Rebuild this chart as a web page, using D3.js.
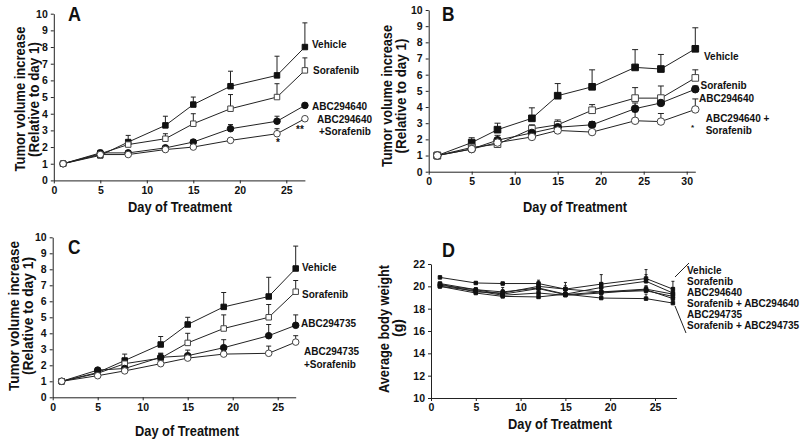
<!DOCTYPE html>
<html><head><meta charset="utf-8">
<script src="https://cdnjs.cloudflare.com/ajax/libs/d3/7.8.5/d3.min.js"></script>
<style>
body{margin:0;background:#fff;}
svg{display:block;}
text{font-family:'Liberation Sans',Arial,Helvetica,sans-serif;font-weight:bold;fill:#111;}
</style></head>
<body>
<svg id="chart" width="800" height="445"></svg>
<script>
// ---------------- DATA ----------------
const daysA = [1, 5, 8, 12, 15, 19, 24, 27];
const aVehicle = [1, 1.5, 2.3, 3.3, 4.55, 5.65, 6.3, 8.0];
const aVehicleErr = [0, 0.3, 0.4, 0.55, 0.45, 0.9, 1.15, 1.45];
const aSorafenib = [1, 1.6, 2.15, 2.5, 3.4, 4.3, 5.0, 6.6];
const aSorafenibErr = [0, 0.2, 0.15, 0.3, 0.6, 0.85, 0.8, 0.75];
const aABC640 = [1, 1.65, 1.65, 1.95, 2.3, 3.1, 3.55, 4.5];
const aABC640Err = [0, 0.15, 0.1, 0.1, 0.15, 0.25, 0.3, 0.1];
const aCombo = [1, 1.55, 1.55, 1.85, 2.0, 2.4, 2.8, 3.7];
const aComboErr = [0, 0.1, 0.05, 0.05, 0.1, 0.1, 0.3, 0.1];

const daysB = [1, 5, 8, 12, 15, 19, 24, 27, 31];
const bVehicle = [1, 1.8, 2.6, 3.3, 4.7, 5.25, 6.45, 6.35, 7.6];
const bVehicleErr = [0, 0.3, 0.4, 0.65, 0.75, 1.05, 1.1, 0.9, 1.3];
const bSorafenib = [1, 1.5, 1.7, 2.65, 2.9, 3.8, 4.55, 4.55, 5.8];
const bSorafenibErr = [0, 0.15, 0.25, 0.25, 0.3, 0.35, 0.65, 0.75, 0.5];
const bABC640 = [1, 1.4, 1.95, 2.4, 2.75, 2.9, 3.9, 4.25, 5.1];
const bABC640Err = [0, 0.15, 0.3, 0.3, 0.35, 0.2, 0.35, 0.15, 0.2];
const bCombo = [1, 1.4, 1.8, 2.15, 2.55, 2.45, 3.15, 3.1, 3.85];
const bComboErr = [0, 0.1, 0.1, 0.25, 0.2, 0.15, 0.55, 0.5, 0.65];

const daysC = [1, 5, 8, 12, 15, 19, 24, 27];
const cVehicle = [1, 1.55, 2.3, 3.3, 4.55, 5.65, 6.3, 8.05];
const cVehicleErr = [0, 0.15, 0.4, 0.5, 0.45, 0.9, 1.2, 1.4];
const cSorafenib = [1, 1.5, 2.1, 2.45, 3.4, 4.3, 5.0, 6.6];
const cSorafenibErr = [0, 0.1, 0.2, 0.3, 0.6, 0.85, 0.8, 0.7];
const cABC735 = [1, 1.7, 1.8, 2.5, 2.6, 3.1, 3.85, 4.5];
const cABC735Err = [0, 0.1, 0.2, 0.25, 0.35, 0.5, 0.7, 0.65];
const cCombo = [1, 1.35, 1.65, 2.1, 2.45, 2.7, 2.75, 3.45];
const cComboErr = [0, 0.1, 0.1, 0.15, 0.1, 0.15, 0.45, 0.4];

const daysD = [1, 5, 8, 12, 15, 19, 24, 27];
const dVehicle = [20.8, 20.3, 20.25, 20.25, 19.75, 20.2, 20.7, 19.75];
const dVehicleErr = [0.1, 0.1, 0.1, 0.3, 0.6, 0.85, 0.8, 0.7];
const dSorafenib = [20.25, 19.7, 19.5, 19.85, 19.3, 19.9, 20.45, 19.4];
const dSorafenibErr = [0.1, 0.15, 0.4, 0.3, 0.3, 0.3, 0.6, 0.5];
const dABC640 = [20.1, 19.7, 19.3, 19.8, 19.25, 19.5, 19.75, 19.3];
const dABC640Err = [0.1, 0.15, 0.3, 0.3, 0.2, 0.3, 0.3, 0.3];
const dCombo640 = [20.0, 19.6, 19.2, 19.4, 19.2, 19.4, 19.7, 18.9];
const dCombo640Err = [0.1, 0.1, 0.2, 0.3, 0.2, 0.2, 0.3, 0.3];
const dABC735 = [20.0, 19.4, 19.1, 19.05, 19.3, 18.95, 18.9, 18.5];
const dABC735Err = [0.1, 0.1, 0.2, 0.2, 0.2, 0.2, 0.4, 0.3];
const dCombo735 = [20.2, 19.5, 19.4, 20.0, 19.75, 19.5, 19.6, 19.1];
const dCombo735Err = [0.1, 0.1, 0.3, 0.4, 0.3, 0.3, 0.4, 0.3];

const tumorTicks = [0,1,2,3,4,5,6,7,8,9,10];
const dayTicks27 = [0,5,10,15,20,25];
const dayTicks31 = [0,5,10,15,20,25,30];
const weightTicks = [10,12,14,16,18,20,22];
const legendD = ["Vehicle","Sorafenib","ABC294640","Sorafenib + ABC294640","ABC294735","Sorafenib + ABC294735"];

// ---------------- DRAW ----------------
const svg = d3.select("#chart");

function condense(sel, len){
  sel.attr("textLength", len).attr("lengthAdjust","spacingAndGlyphs");
}

function drawPanel(cfg){
  const g = svg.append("g");
  const x = d3.scaleLinear().domain(cfg.xDomain).range(cfg.xRange);
  const y = d3.scaleLinear().domain(cfg.yDomain).range(cfg.yRange);

  const xAxis = g.append("g").attr("transform",`translate(0,${cfg.yRange[0]})`)
    .call(d3.axisBottom(x).tickValues(cfg.xTicks).tickSize(3).tickSizeOuter(0).tickPadding(3));
  const yAxis = g.append("g").attr("transform",`translate(${cfg.xRange[0]},0)`)
    .call(d3.axisLeft(y).tickValues(cfg.yTicks).tickSize(3).tickSizeOuter(0).tickPadding(3));
  [xAxis,yAxis].forEach(a=>{
    a.selectAll("path,line").attr("stroke","#222").attr("stroke-width",1);
    a.selectAll("text").style("font-size","10.5px").style("font-weight","bold")
      .style("font-family","'Liberation Sans',Arial,sans-serif").attr("fill","#111");
  });

  const line = d3.line().x((d,i)=>x(cfg.days[i])).y(d=>y(d));
  cfg.series.forEach(s=>{
    g.append("path").attr("d", line(s.values)).attr("fill","none")
      .attr("stroke","#222").attr("stroke-width",1);
  });
  cfg.series.forEach(s=>{
    s.values.forEach((v,i)=>{
      const e = s.err[i];
      if(e<=0) return;
      const xx = x(cfg.days[i]);
      g.append("line").attr("x1",xx).attr("x2",xx).attr("y1",y(v)).attr("y2",y(v+e))
        .attr("stroke","#222").attr("stroke-width",1);
      g.append("line").attr("x1",xx-cfg.cap).attr("x2",xx+cfg.cap).attr("y1",y(v+e)).attr("y2",y(v+e))
        .attr("stroke","#222").attr("stroke-width",1);
    });
  });
  cfg.series.forEach(s=>{
    const sym = d3.symbol().type(s.shape==="square"?d3.symbolSquare:d3.symbolCircle)
      .size(s.shape==="square"?cfg.sqSize:cfg.ciSize);
    s.values.forEach((v,i)=>{
      g.append("path").attr("d",sym())
        .attr("transform",`translate(${x(cfg.days[i])},${y(v)})`)
        .attr("fill", s.filled?"#111":"#fff")
        .attr("stroke", s.filled?"#111":"#444").attr("stroke-width",1);
    });
  });

  // panel letter
  g.append("text").attr("x",cfg.letter[0]).attr("y",cfg.letter[1]).text(cfg.letter[2])
    .style("font-size","21px").call(condense, cfg.letter[3]);
  // x title
  g.append("text").attr("x",cfg.xTitle[0]).attr("y",cfg.xTitle[1]).attr("text-anchor","middle")
    .text("Day of Treatment").style("font-size","15.5px").call(condense,104);
  // y titles
  cfg.yTitles.forEach(t=>{
    g.append("text").attr("transform",`translate(${t.x},${t.cy}) rotate(-90)`)
      .attr("text-anchor","middle").text(t.text).style("font-size","15.5px").call(condense,t.len);
  });
  // labels
  cfg.labels.forEach(l=>{
    g.append("text").attr("x",l[0]).attr("y",l[1]).text(l[2]).style("font-size",(l[3]||10)+"px");
  });
}

drawPanel({
  days: daysA, xDomain:[0,27], xRange:[53.8,304.9], yDomain:[0,10], yRange:[180.4,13.7],
  xTicks: dayTicks27, yTicks: tumorTicks, cap:2.5, sqSize:30, ciSize:34,
  series:[
    {values:aVehicle, err:aVehicleErr, shape:"square", filled:true},
    {values:aSorafenib, err:aSorafenibErr, shape:"square", filled:false},
    {values:aABC640, err:aABC640Err, shape:"circle", filled:true},
    {values:aCombo, err:aComboErr, shape:"circle", filled:false}],
  letter:[68,21,"A",13],
  xTitle:[180,212],
  yTitles:[{x:25,cy:99,text:"Tumor volume increase",len:145},{x:39,cy:99.5,text:"(Relative to day 1)",len:115}],
  labels:[[312,48,"Vehicle"],[313,74,"Sorafenib"],[312,109.5,"ABC294640"],[317,122.7,"ABC294640"],
          [319,134.5,"+Sorafenib"],[296,133,"**",10],[276,146,"*",10]]
});

drawPanel({
  days: daysB, xDomain:[0,31], xRange:[428.7,695.3], yDomain:[0,10], yRange:[171.7,10],
  xTicks: dayTicks31, yTicks: tumorTicks, cap:3, sqSize:44, ciSize:44,
  series:[
    {values:bVehicle, err:bVehicleErr, shape:"square", filled:true},
    {values:bSorafenib, err:bSorafenibErr, shape:"square", filled:false},
    {values:bABC640, err:bABC640Err, shape:"circle", filled:true},
    {values:bCombo, err:bComboErr, shape:"circle", filled:false}],
  letter:[442,21,"B",12.5],
  xTitle:[575,212],
  yTitles:[{x:391.7,cy:96,text:"Tumor volume increase",len:142},{x:406,cy:96,text:"(Relative to day 1)",len:115}],
  labels:[[704,60,"Vehicle"],[700.5,89.3,"Sorafenib"],[699,101.7,"ABC294640"],
          [705.7,122.3,"ABC294640 +"],[705.7,134,"Sorafenib"],[691,129.5,"*",8]]
});

drawPanel({
  days: daysC, xDomain:[0,27], xRange:[52.7,295.7], yDomain:[0,10], yRange:[397.3,237.3],
  xTicks: dayTicks27, yTicks: tumorTicks, cap:2.5, sqSize:30, ciSize:34,
  series:[
    {values:cVehicle, err:cVehicleErr, shape:"square", filled:true},
    {values:cSorafenib, err:cSorafenibErr, shape:"square", filled:false},
    {values:cABC735, err:cABC735Err, shape:"circle", filled:true},
    {values:cCombo, err:cComboErr, shape:"circle", filled:false}],
  letter:[68,254,"C",12.5],
  xTitle:[187,436],
  yTitles:[{x:18.5,cy:316,text:"Tumor volume increase",len:150},{x:32.5,cy:316,text:"(Relative to day 1)",len:118}],
  labels:[[302,270.7,"Vehicle"],[302,298.3,"Sorafenib"],[301,327,"ABC294735"],
          [304,355,"ABC294735"],[304,368,"+Sorafenib"]]
});

drawPanel({
  days: daysD, xDomain:[0,27.4], xRange:[431,676.5], yDomain:[10,22], yRange:[398,264],
  xTicks: dayTicks27, yTicks: weightTicks, cap:1.5, sqSize:12, ciSize:12,
  series:[
    {values:dVehicle, err:dVehicleErr, shape:"square", filled:true},
    {values:dSorafenib, err:dSorafenibErr, shape:"square", filled:true},
    {values:dABC640, err:dABC640Err, shape:"square", filled:true},
    {values:dCombo640, err:dCombo640Err, shape:"square", filled:true},
    {values:dABC735, err:dABC735Err, shape:"square", filled:true},
    {values:dCombo735, err:dCombo735Err, shape:"square", filled:true}],
  letter:[442,257,"D",13],
  xTitle:[560,429],
  yTitles:[{x:389,cy:329,text:"Average body weight",len:128},{x:403,cy:328,text:"(g)",len:18}],
  labels: legendD.map((t,i)=>[687, 274 + i*11, t, 10])
});

// legend connector lines in panel D
svg.append("line").attr("x1",675).attr("y1",277).attr("x2",689).attr("y2",263).attr("stroke","#222");
svg.append("line").attr("x1",675).attr("y1",306).attr("x2",686).attr("y2",333).attr("stroke","#222");
</script>
</body></html>
